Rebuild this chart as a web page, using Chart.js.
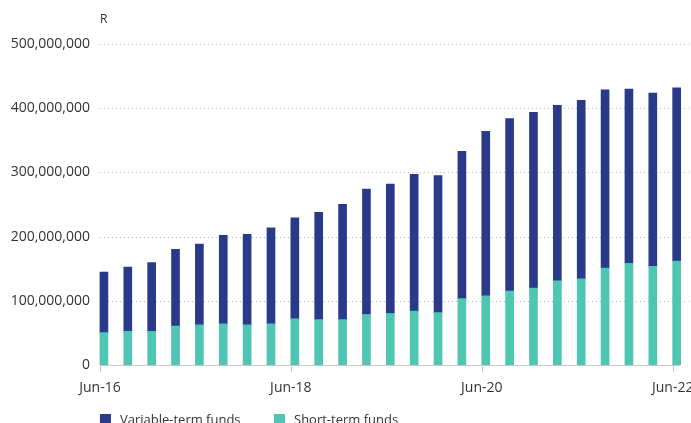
<!DOCTYPE html>
<html lang="en">
<head>
    <meta charset="UTF-8">
    <title>Funds</title>
    <script src="https://cdn.jsdelivr.net/npm/chart.js"></script>
    <style>
        html, body {
            margin: 0;
            padding: 0;
            background: #fff;
            overflow: hidden;
        }
        .chart-container {
            position: relative;
            width: 691px;
            height: 423px;
        }
    </style>
</head>
<body>
    <div class="chart-container">
        <canvas id="fundsChart"></canvas>
    </div>

    <script>
        const quarters = [
            "Jun-16", "Sep-16", "Dec-16", "Mar-17", "Jun-17", "Sep-17", "Dec-17", "Mar-18",
            "Jun-18", "Sep-18", "Dec-18", "Mar-19", "Jun-19", "Sep-19", "Dec-19", "Mar-20",
            "Jun-20", "Sep-20", "Dec-20", "Mar-21", "Jun-21", "Sep-21", "Dec-21", "Mar-22",
            "Jun-22"
        ];
        const shownTicks = ["Jun-16", "Jun-18", "Jun-20", "Jun-22"];

        // values in rand
        const shortTerm = [
            50.5e6, 52.6e6, 52.6e6, 60.8e6, 62.4e6, 64.0e6, 62.4e6, 64.0e6,
            71.8e6, 70.8e6, 70.8e6, 78.6e6, 80.2e6, 83.8e6, 81.7e6, 103.3e6,
            107.7e6, 115.0e6, 119.7e6, 131.0e6, 134.2e6, 150.9e6, 158.2e6, 153.5e6,
            161.8e6
        ];
        const variableTerm = [
            94.1e6, 99.8e6, 107.1e6, 119.2e6, 125.9e6, 137.9e6, 141.0e6, 149.7e6,
            157.5e6, 166.9e6, 179.4e6, 195.5e6, 201.7e6, 213.2e6, 213.2e6, 229.6e6,
            256.4e6, 268.8e6, 274.0e6, 273.6e6, 278.2e6, 277.6e6, 271.4e6, 269.9e6,
            269.9e6
        ];
        const yTicks = [0, 100e6, 200e6, 300e6, 400e6, 500e6];

        const navy = "#293a8b";
        const teal = "#4ec6b3";
        const textColor = "#333333";
        const fontFamily = "'Open Sans', sans-serif";
        const barWidth = 8;

        // grid lines, baseline, tick marks, unit label and legend
        const decorations = {
            id: "decorations",
            beforeDatasetsDraw(chart) {
                const ctx = chart.ctx;
                const x = chart.scales.x;
                const y = chart.scales.y;
                const left = x.getPixelForValue(0) - barWidth / 2;
                const right = x.getPixelForValue(quarters.length - 1) + barWidth / 2;
                ctx.save();
                ctx.strokeStyle = "#b8b8b8";
                ctx.lineWidth = 1;
                ctx.setLineDash([1, 3]);
                yTicks.forEach(v => {
                    if (v === 0) return;
                    const py = Math.round(y.getPixelForValue(v)) + 0.5;
                    ctx.beginPath();
                    ctx.moveTo(left, py);
                    ctx.lineTo(chart.chartArea.right, py);
                    ctx.stroke();
                });
                ctx.setLineDash([]);
                ctx.strokeStyle = "#c8c8c8";
                const base = Math.round(y.getPixelForValue(0)) + 0.5;
                ctx.beginPath();
                ctx.moveTo(left, base);
                ctx.lineTo(right, base);
                ctx.stroke();
                quarters.forEach((q, i) => {
                    if (!shownTicks.includes(q)) return;
                    const px = Math.round(x.getPixelForValue(i) - barWidth / 2) + 0.5;
                    ctx.beginPath();
                    ctx.moveTo(px, base);
                    ctx.lineTo(px, base + 7);
                    ctx.stroke();
                });
                ctx.restore();
            },
            afterDraw(chart) {
                const ctx = chart.ctx;
                const left = chart.scales.x.getPixelForValue(0) - barWidth / 2;
                ctx.save();
                ctx.fillStyle = textColor;
                ctx.font = "12px " + fontFamily;
                ctx.textBaseline = "alphabetic";
                ctx.fillText("R", left, 23);

                const items = [
                    { label: "Variable-term funds", color: navy, x: left },
                    { label: "Short-term funds", color: teal, x: 274 }
                ];
                ctx.font = "13px " + fontFamily;
                items.forEach(item => {
                    ctx.fillStyle = item.color;
                    ctx.fillRect(item.x, 414, 11, 11);
                    ctx.fillStyle = textColor;
                    ctx.fillText(item.label, item.x + 20, 424);
                });
                ctx.restore();
            }
        };

        const ctx = document.getElementById("fundsChart").getContext("2d");
        new Chart(ctx, {
            type: "bar",
            data: {
                labels: quarters,
                datasets: [
                    {
                        label: "Short-term funds",
                        data: shortTerm,
                        backgroundColor: teal,
                        barThickness: barWidth,
                        borderWidth: 0
                    },
                    {
                        label: "Variable-term funds",
                        data: variableTerm,
                        backgroundColor: navy,
                        barThickness: barWidth,
                        borderWidth: 0
                    }
                ]
            },
            options: {
                responsive: true,
                maintainAspectRatio: false,
                animation: false,
                layout: {
                    padding: { top: 44, right: 2.4, bottom: 0, left: 0 }
                },
                plugins: {
                    legend: { display: false },
                    tooltip: { enabled: false }
                },
                scales: {
                    x: {
                        stacked: true,
                        offset: true,
                        grid: { display: false },
                        border: { display: false },
                        ticks: {
                            autoSkip: false,
                            maxRotation: 0,
                            padding: 7,
                            labelOffset: -barWidth / 2,
                            color: textColor,
                            font: { family: fontFamily, size: 14 },
                            callback: function (value) {
                                const q = quarters[value];
                                return shownTicks.includes(q) ? q : "";
                            }
                        },
                        afterFit(scale) {
                            scale.height = 58;
                            scale.paddingLeft = 0;
                            scale.paddingRight = 0;
                        }
                    },
                    y: {
                        stacked: true,
                        min: 0,
                        max: 500e6,
                        grid: { display: false, drawTicks: false },
                        border: { display: false },
                        ticks: {
                            stepSize: 100e6,
                            padding: 2,
                            color: textColor,
                            font: { family: fontFamily, size: 14 },
                            callback: value => value.toLocaleString("en-US")
                        },
                        afterFit(scale) {
                            scale.width = 92;
                        }
                    }
                }
            },
            plugins: [decorations]
        });
    </script>
</body>
</html>
